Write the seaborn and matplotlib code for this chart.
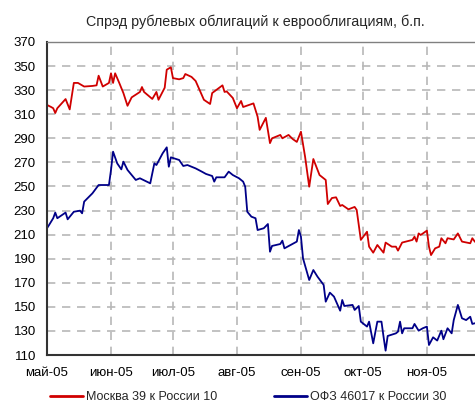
import matplotlib
matplotlib.use("Agg")
import matplotlib.pyplot as plt
import seaborn as sns
import pandas as pd

# ---------------- data ----------------
title = "Спрэд рублевых облигаций к еврооблигациям, б.п."
series_names = ["Москва 39 к России 10", "ОФЗ 46017 к России 30"]
month_starts = ["2005-05-01", "2005-06-01", "2005-07-01", "2005-08-01",
                "2005-09-01", "2005-10-01", "2005-11-01"]
month_labels = ["май-05", "июн-05", "июл-05", "авг-05", "сен-05", "окт-05", "ноя-05"]
y_ticks = list(range(110, 371, 20))
start_date = "2005-05-01"
end_day = 207.3  # days after start shown at right edge

# days after 1 May 2005, spread in b.p.
red_days = [0, 2, 3, 4, 5, 9, 11, 13, 15, 18, 22, 24, 25, 27, 30, 31, 32, 33, 35, 37,
            39, 41, 45, 46, 47, 51, 53, 54, 57, 58, 60, 61, 64, 66, 67, 70, 72, 76, 79, 80,
            85, 86, 87, 90, 92, 94, 95, 100, 102, 103, 106, 108, 109, 113, 114, 117, 119, 121, 123, 125,
            127, 129, 132, 135, 136, 138, 140, 142, 143, 146, 149, 150, 152, 155, 156, 158, 160, 163, 164, 167,
            169, 170, 172, 177, 178, 179, 180, 181, 184, 185, 186, 188, 190, 191, 193, 194, 197, 199, 201, 205,
            206, 207.3]
red_vals = [317.7, 316, 315, 311, 315, 322.6, 314, 336, 336, 333, 333.5, 334, 342, 333, 336, 344, 336, 344, 336, 327.6,
            317, 324, 328.5, 332.6, 328.5, 322.7, 328.5, 322, 332, 347, 349, 340, 339, 340, 343.4, 341, 337.6, 322, 318.5, 327.6,
            334, 328.5, 329, 323.5, 315, 321, 316, 319, 308, 297, 307, 286, 290, 292.8, 290, 292.8, 289.4, 287, 295.5, 274.7,
            249.8, 272.8, 259.5, 255.4, 235.4, 240.4, 241, 233.8, 234.6, 231, 233, 230.5, 205.6, 212.4, 200, 195, 201.4, 195, 203.4, 200,
            200, 196.7, 203.4, 205.6, 208.3, 204.2, 211, 209.7, 213.3, 200, 193, 198.6, 200, 207, 202.8, 207, 206, 211, 204.2, 202.8,
            207, 204]

blue_days = [0, 1, 3, 4, 5, 9, 10, 13, 16, 17, 18, 22, 25, 30, 31, 32, 34, 36, 37, 39,
             43, 45, 50, 52, 53, 56, 58, 59, 60, 64, 66, 68, 72, 75, 77, 80, 81, 82, 86, 88,
             90, 93, 95, 96, 97, 99, 101, 102, 105, 107, 108, 109, 113, 114, 115, 118, 121, 122, 123, 124,
             127, 129, 131, 134, 135, 137, 139, 142, 143, 144, 148, 149, 151, 152, 155, 156, 158, 160, 162, 163,
             164, 165, 169, 170, 171, 172, 173, 177, 178, 180, 182, 184, 185, 187, 189, 191, 192, 194, 196, 197,
             199, 201, 203, 205, 206, 207.3]
blue_vals = [215.3, 218, 223.6, 228.3, 223.6, 228.3, 222.7, 229, 229.9, 227.7, 237.4, 244.3, 251.2, 251.2, 263.7, 278.9, 269.2, 264.2, 270.6, 263.7,
             255.4, 256.8, 252.6, 269.2, 267.8, 277.5, 282.5, 266.4, 274.2, 272, 267, 267.8, 265, 262.3, 260.4, 258.7, 254, 257.6, 257.6, 262.3,
             259.5, 256.8, 254, 249.8, 229, 224.9, 223.6, 213.8, 215.3, 218.8, 195.8, 200.6, 202.2, 205, 198.6, 201.4, 204.2, 213.8, 208.3, 190.3,
             172.3, 180.6, 175.1, 168.2, 154.3, 161.8, 158.5, 146.8, 155.7, 150.7, 151.6, 147.4, 150.7, 137.7, 133.6, 137.7, 119.7, 137.7, 137.7, 125.2,
             113.6, 125.8, 128, 129.4, 137.7, 128, 132.2, 132.2, 135.8, 130.2, 132.2, 133.6, 118.3, 124.7, 122, 130.2, 123.1, 132.2, 128, 139,
             151.6, 140.5, 139, 141.8, 135.8, 136.4]

red_color = "#d00000"
blue_color = "#000088"

# ---------------- build frame ----------------
t0 = pd.Timestamp(start_date)
df = pd.concat([
    pd.DataFrame({"date": t0 + pd.to_timedelta(red_days, unit="D"), "value": red_vals,
                  "series": series_names[0]}),
    pd.DataFrame({"date": t0 + pd.to_timedelta(blue_days, unit="D"), "value": blue_vals,
                  "series": series_names[1]}),
], ignore_index=True)

sns.set_style("white")
plt.rcParams["font.family"] = ["Liberation Sans", "DejaVu Sans"]

fig = plt.figure(figsize=(4.75, 4.05), dpi=100)
ax = fig.add_axes([47 / 475, 1 - 355 / 405, 1 - 47 / 475, (355 - 42) / 405])

sns.lineplot(data=df, x="date", y="value", hue="series",
             palette={series_names[0]: red_color, series_names[1]: blue_color},
             estimator=None, sort=True, linewidth=1.3, ax=ax, legend=False)

ax.set_xlim(t0, t0 + pd.Timedelta(days=end_day))
ax.set_ylim(y_ticks[0], y_ticks[-1])
ax.set_yticks(y_ticks)
ax.set_xticks(pd.to_datetime(month_starts))
ax.set_xticklabels(month_labels)
ax.set_xlabel("")
ax.set_ylabel("")

ax.set_axisbelow(True)
ax.grid(True, color="#b8b8b8", linestyle=(0, (5, 4)), linewidth=1.2)

for side in ["left", "bottom"]:
    ax.spines[side].set_color("#333333")
    ax.spines[side].set_linewidth(1.5)
ax.spines["top"].set_color("#808080")
ax.spines["top"].set_linewidth(1.0)
ax.spines["right"].set_visible(False)

ax.tick_params(axis="both", length=0, labelsize=9.5, colors="black")
ax.tick_params(axis="y", pad=8)
ax.tick_params(axis="x", pad=9)

fig.text(255 / 475, 1 - 22 / 405, title, ha="center", va="center", fontsize=10.3)

handles = [plt.Line2D([], [], color=red_color, linewidth=2),
           plt.Line2D([], [], color=blue_color, linewidth=2)]
fig.legend(handles, series_names, loc="center left", bbox_to_anchor=(50 / 475, 1 - 397 / 405),
           ncol=2, frameon=False, fontsize=9, borderpad=0, borderaxespad=0,
           handlelength=2.6, handletextpad=0.25, columnspacing=4.6)

fig.savefig("out.png", dpi=100)
